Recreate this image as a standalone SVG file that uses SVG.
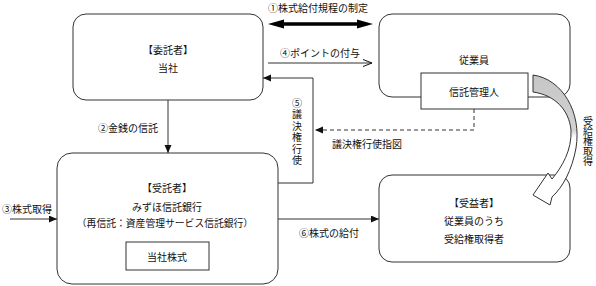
<svg xmlns="http://www.w3.org/2000/svg" width="596" height="286" viewBox="0 0 596 286">
<style>
text{font-family:"Noto Sans CJK JP","Noto Sans",sans-serif;font-size:10px;fill:#111;dominant-baseline:central;text-anchor:middle}
.node{fill:#fff;stroke:#333;stroke-width:1}
.ln{fill:none;stroke:#333;stroke-width:1}
.vt{writing-mode:vertical-rl;text-anchor:start;dominant-baseline:central}
</style>
<defs>
<marker id="fa" markerUnits="userSpaceOnUse" markerWidth="9" markerHeight="8" refX="8" refY="3.5" orient="auto">
<path d="M0,0 L8,3.5 L0,7 z" fill="#111"/>
</marker>
<marker id="oa" markerUnits="userSpaceOnUse" markerWidth="10" markerHeight="9" refX="9" refY="4" orient="auto">
<path d="M0,0.5 L9,4 L0,7.5" fill="none" stroke="#111" stroke-width="1"/>
</marker>
<linearGradient id="g" gradientUnits="userSpaceOnUse" x1="0" y1="75" x2="0" y2="200">
<stop offset="0" stop-color="#c6c6c6"/>
<stop offset="0.44" stop-color="#d2d2d2"/>
<stop offset="0.5" stop-color="#fff"/>
</linearGradient>
</defs>

<g id="connectors">
<polygon points="268,24 284,19.5 284,22.2 357,22.2 357,19.5 373,24 357,28.5 357,25.8 284,25.8 284,28.5" fill="#000"/>
<text x="318" y="7">①株式給付規程の制定</text>
<line class="ln" x1="268" y1="63" x2="372" y2="63" marker-end="url(#oa)"/>
<text x="320" y="52">④ポイントの付与</text>
<polyline class="ln" points="278,183 313,183 313,78 263,78" marker-end="url(#fa)"/>
<text class="vt" x="297" y="98" style="letter-spacing:1.5px">⑤議決権行使</text>
<polyline class="ln" points="474,109 474,130 315,130" stroke-dasharray="4,3" marker-end="url(#fa)"/>
<text x="367" y="143">議決権行使指図</text>
<line class="ln" x1="168" y1="100" x2="168" y2="153" marker-end="url(#fa)"/>
<text x="128" y="127">②金銭の信託</text>
<line class="ln" x1="10" y1="219" x2="57" y2="219" marker-end="url(#fa)"/>
<text x="27" y="208">③株式取得</text>
<line class="ln" x1="278" y1="219" x2="379" y2="219" marker-end="url(#fa)"/>
<text x="329" y="232">⑥株式の給付</text>
<text class="vt" x="588" y="116">受給権取得</text>
</g>

<g id="itakusha">
<rect class="node" x="73" y="14" width="190" height="86" rx="13"/>
<text x="168" y="49">【委託者】</text>
<text x="168" y="67">当社</text>
</g>

<g id="jugyoin">
<rect class="node" x="379" y="14" width="191" height="83" rx="13"/>
<text x="474" y="59">従業員</text>
</g>

<g id="shintakanrinin">
<rect class="node" x="421" y="73" width="107" height="36"/>
<text x="474" y="91">信託管理人</text>
</g>

<g id="jutakusha">
<rect class="node" x="57" y="153" width="221" height="131" rx="15"/>
<text x="167" y="187">【受託者】</text>
<text x="167" y="206">みずほ信託銀行</text>
<text x="165" y="223" style="font-size:9.8px">（再信託：資産管理サービス信託銀行）</text>
<rect class="node" x="126" y="242" width="83" height="28"/>
<text x="167" y="256">当社株式</text>
</g>

<g id="juekisha">
<rect class="node" x="379" y="175" width="191" height="87" rx="13"/>
<text x="474" y="202">【受益者】</text>
<text x="474" y="220">従業員のうち</text>
<text x="474" y="238">受給権取得者</text>
</g>

<g id="curved-arrow">
<path d="M533,75 C562,79 582,112 576,148 C572,170 563,187 552,197 L550,205 L533,195 L548,173 L552,179 C562,167 572,150 571,130 C569,110 555,95 533,92 Z" fill="url(#g)" stroke="#333" stroke-width="1"/>
</g>
</svg>
